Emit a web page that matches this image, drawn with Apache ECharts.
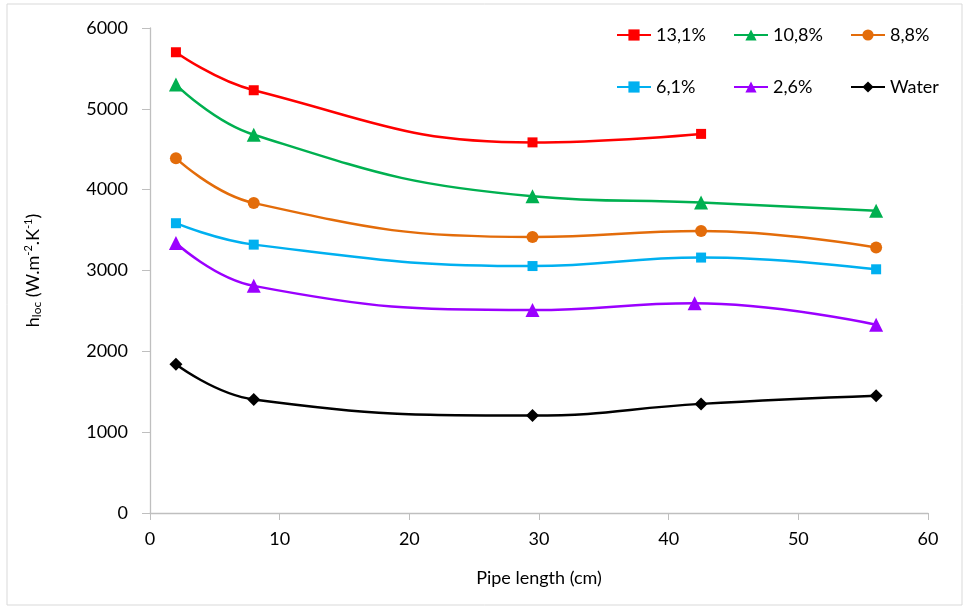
<!DOCTYPE html>
<html>
<head>
<meta charset="utf-8">
<script src="https://cdn.jsdelivr.net/npm/echarts@6/dist/echarts.min.js"></script>
<style>html,body{margin:0;padding:0;background:#fff}#c{width:965px;height:610px}</style>
</head>
<body>
<div id="c"></div>
<script>
// Data
const xCommon = [2, 8, 29.5, 42.5, 56];
const xPurple = [2, 8, 29.5, 42, 56];
const seriesNames = ['13,1%', '10,8%', '8,8%', '6,1%', '2,6%', 'Water'];
const v131 = [5700, 5230, 4585, 4690];
const v108 = [5300, 4680, 3920, 3840, 3740];
const v88 = [4390, 3835, 3415, 3490, 3285];
const v61 = [3585, 3320, 3055, 3160, 3015];
const v26 = [3340, 2810, 2510, 2595, 2330];
const vWater = [1840, 1405, 1205, 1350, 1450];
const xTicks = [0, 10, 20, 30, 40, 50, 60];
const yTicks = [0, 1000, 2000, 3000, 4000, 5000, 6000];

function pairs(xs, ys) { return ys.map((y, i) => [xs[i], y]); }

const FONT = 'Lato, "Open Sans", sans-serif';
const FS = 18;
const styles = [
  { color: '#FF0000', symbol: 'rect', size: 10 },
  { color: '#00B050', symbol: 'triangle', size: 14 },
  { color: '#E36C0A', symbol: 'circle', size: 12 },
  { color: '#00B0F0', symbol: 'rect', size: 10 },
  { color: '#9B00FF', symbol: 'triangle', size: 14 },
  { color: '#000000', symbol: 'diamond', size: 13 }
];
const dataSets = [
  pairs(xCommon, v131), pairs(xCommon, v108), pairs(xCommon, v88),
  pairs(xCommon, v61), pairs(xPurple, v26), pairs(xCommon, vWater)
];

const chart = echarts.init(document.getElementById('c'), null, { renderer: 'canvas' });
const legendCommon = {
  orient: 'vertical', top: 26, itemWidth: 34, itemHeight: 14, itemGap: 34,
  textStyle: { fontFamily: FONT, fontSize: FS, color: '#000' }, padding: 0
};
chart.setOption({
  animation: false,
  backgroundColor: '#fff',
  graphic: [{ type: 'rect', shape: { x: 7, y: 4, width: 955, height: 601 }, style: { fill: 'none', stroke: '#D9D9D9', lineWidth: 1 }, silent: true }],
  legend: [
    Object.assign({}, legendCommon, { left: 616, data: [seriesNames[0], seriesNames[3]] }),
    Object.assign({}, legendCommon, { left: 733, data: [seriesNames[1], seriesNames[4]] }),
    Object.assign({}, legendCommon, { left: 850, data: [seriesNames[2], seriesNames[5]] })
  ],
  grid: { left: 150, right: 37, top: 28, bottom: 97, containLabel: false },
  xAxis: {
    type: 'value', min: xTicks[0], max: xTicks[xTicks.length - 1], interval: 10,
    name: 'Pipe length (cm)', nameLocation: 'middle', nameGap: 56,
    nameTextStyle: { fontFamily: FONT, fontSize: FS, color: '#000' },
    axisLine: { show: true, lineStyle: { color: '#BFBFBF', width: 1.3 } },
    axisTick: { show: true, inside: false, length: 7, lineStyle: { color: '#BFBFBF' } },
    axisLabel: { margin: 17, fontFamily: FONT, fontSize: FS, color: '#000', formatter: v => String(v) },
    splitLine: { show: false }
  },
  yAxis: {
    type: 'value', min: yTicks[0], max: yTicks[yTicks.length - 1], interval: 1000,
    name: '{n|h}{sub|loc}{n| (W.m}{sup|-2}{n|.K}{sup|-1}{n|)}',
    nameLocation: 'middle', nameGap: 107, nameRotate: 90,
    nameTextStyle: {
      fontFamily: FONT, fontSize: FS, color: '#000',
      rich: {
        n: { fontFamily: FONT, fontSize: FS, color: '#000' },
        sub: { fontFamily: FONT, fontSize: 12, color: '#000', verticalAlign: 'bottom', padding: [8, 0, 0, 0] },
        sup: { fontFamily: FONT, fontSize: 11, color: '#000', verticalAlign: 'top', padding: [0, 0, 8, 0] }
      }
    },
    axisLine: { show: true, lineStyle: { color: '#BFBFBF', width: 1.3 } },
    axisTick: { show: true, inside: false, length: 8, lineStyle: { color: '#BFBFBF' } },
    axisLabel: { margin: 22, fontFamily: FONT, fontSize: FS, color: '#000', formatter: v => String(v) },
    splitLine: { show: false }
  },
  series: seriesNames.map((n, i) => ({
    name: n, type: 'line', smooth: 0.45,
    data: dataSets[i],
    symbol: styles[i].symbol, symbolSize: styles[i].size,
    itemStyle: { color: styles[i].color },
    lineStyle: { color: styles[i].color, width: 2.5 },
    emphasis: { disabled: true }
  }))
});
</script>
</body>
</html>
